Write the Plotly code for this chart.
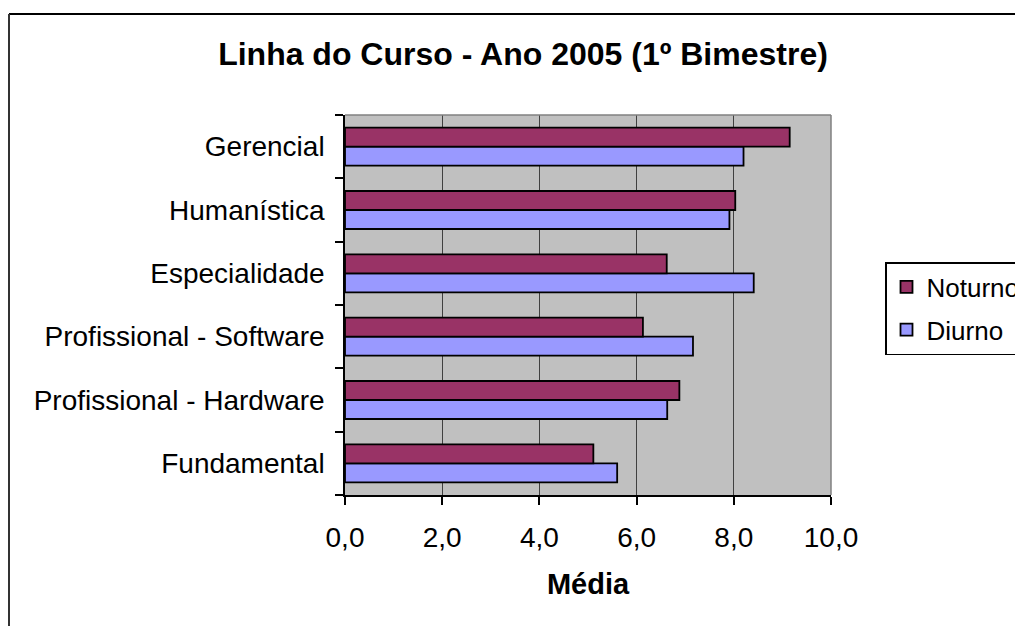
import plotly.graph_objects as go

categories = ["Fundamental", "Profissional - Hardware", "Profissional - Software",
              "Especialidade", "Humanística", "Gerencial"]
noturno = [5.11, 6.88, 6.13, 6.62, 8.03, 9.15]
diurno = [5.60, 6.63, 7.16, 8.41, 7.91, 8.20]
x_ticks = [0, 2, 4, 6, 8, 10]

W, H = 1023, 626
OFF = 8  # page body margin
# target plot area in page pixels
L, R, T, B = 345, 831, 115, 495
pw, ph = R - L, B - T

FONT = "Liberation Sans, Arial, sans-serif"

fig = go.Figure()
fig.add_trace(go.Bar(
    y=categories, x=diurno, name="Diurno", orientation="h",
    marker=dict(color="#9999FF", line=dict(color="black", width=1.8)),
    legendgroup="d", legendrank=2,
))
fig.add_trace(go.Bar(
    y=categories, x=noturno, name="Noturno", orientation="h",
    marker=dict(color="#993366", line=dict(color="black", width=1.8)),
    legendgroup="n", legendrank=1,
))


def px_x(p):
    return (p - L) / pw


def px_y(p):
    return (B - p) / ph


shapes = [
    dict(type="line", xref="paper", yref="paper", x0=0, x1=1, y0=1, y1=1,
         line=dict(color="#808080", width=1.5), layer="above"),
    dict(type="line", xref="paper", yref="paper", x0=1, x1=1, y0=0, y1=1,
         line=dict(color="#808080", width=1.5), layer="above"),
    dict(type="line", xref="paper", yref="paper", x0=px_x(9), x1=px_x(1060),
         y0=px_y(14), y1=px_y(14), line=dict(color="black", width=2)),
    dict(type="line", xref="paper", yref="paper", x0=px_x(9), x1=px_x(9),
         y0=px_y(14), y1=px_y(660), line=dict(color="#333333", width=2)),
]

fig.update_layout(
    width=W, height=H,
    margin=dict(l=L - OFF, r=W - (R - OFF), t=T - OFF, b=H - (B - OFF),
                autoexpand=False),
    paper_bgcolor="white",
    plot_bgcolor="#C0C0C0",
    barmode="group", bargap=0.4, bargroupgap=0,
    separators=",.",
    font=dict(family=FONT, size=28, color="black"),
    title=dict(text="<b>Linha do Curso - Ano 2005 (1º Bimestre)</b>",
               font=dict(size=32, family=FONT, color="black"),
               x=(523 - OFF) / W, xref="container", xanchor="center",
               y=1 - (54 - OFF) / H, yref="container", yanchor="middle"),
    xaxis=dict(range=[0, 10], tickvals=x_ticks, tickformat=".1f",
               showgrid=True, gridcolor="#404040", gridwidth=1,
               showline=True, linecolor="black", linewidth=1.5,
               ticks="outside", ticklen=8, tickcolor="black", tickwidth=1.5,
               ticklabelstandoff=9,
               tickfont=dict(size=28, family=FONT),
               zeroline=False, fixedrange=True,
               title=dict(text="<b>Média</b>", font=dict(size=29, family=FONT),
                          standoff=21)),
    yaxis=dict(categoryorder="array", categoryarray=categories,
               showgrid=False, showline=True, linecolor="black", linewidth=1.5,
               ticks="outside", ticklen=8, tickcolor="black", tickwidth=1.5,
               tickson="boundaries", ticklabelstandoff=13,
               tickfont=dict(size=28, family=FONT)),
    legend=dict(x=px_x(885), y=px_y(262), xanchor="left", yanchor="top",
                bordercolor="black", borderwidth=1.5, bgcolor="white",
                font=dict(size=26, family=FONT), tracegroupgap=6,
                traceorder="grouped"),
    shapes=shapes,
)

fig.write_html("out.html")
